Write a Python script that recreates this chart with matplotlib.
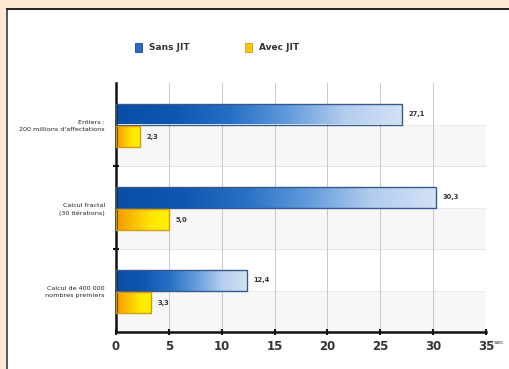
import matplotlib
matplotlib.use("Agg")
import matplotlib.pyplot as plt
import numpy as np
from matplotlib.colors import LinearSegmentedColormap
from matplotlib.patches import Rectangle

# data
categories = ["Entiers :\n200 millions d'affectations",
              "Calcul fractal\n(30 itérations)",
              "Calcul de 400 000\nnombres premiers"]
sans_jit = [27.1, 30.3, 12.4]
avec_jit = [2.3, 5.0, 3.3]
series_names = ["Sans JIT", "Avec JIT"]
x_ticks = [0, 5, 10, 15, 20, 25, 30, 35]

W, H = 509, 369
fig = plt.figure(figsize=(W / 100, H / 100), dpi=100)
fig.patch.set_facecolor("#fde8d3")

# white panel with dark top/left edge
fig.patches.append(Rectangle((7 / W, 0), 1, 1 - 9 / H, transform=fig.transFigure,
                             facecolor="white", edgecolor="none", zorder=-5))
fig.lines.append(plt.Line2D([7 / W, 7 / W], [0, 1 - 9 / H], transform=fig.transFigure,
                            color="#555555", lw=1.4, zorder=-4))
fig.lines.append(plt.Line2D([7 / W, 1], [1 - 9 / H, 1 - 9 / H], transform=fig.transFigure,
                            color="#222222", lw=1.4, zorder=-4))

ax = fig.add_axes([116 / W, 1 - 332 / H, 370 / W, 249 / H])
ax.set_zorder(1)
ax.set_facecolor("white")

blue_cmap = LinearSegmentedColormap.from_list(
    "blue", ["#0a4ea6", "#0e56b0", "#2670c4", "#629bdb", "#b3cdee", "#d3e2f4"])
yellow_cmap = LinearSegmentedColormap.from_list(
    "yellow", ["#f29800", "#fbc000", "#ffe600", "#fff200"])

y = np.arange(len(categories))
n = len(categories)

# background stripes & grid
for yi in y:
    ax.axhspan(yi, yi + 0.5, color="#f7f7f7", lw=0, zorder=0)
    ax.axhline(yi, color="#e8e8e8", lw=0.6, zorder=0.5)
for b in np.arange(0.5, n - 0.5, 1):
    ax.axhline(b, color="#e0e0e0", lw=0.6, zorder=0.5)
for xt in x_ticks[1:]:
    ax.axvline(xt, color="#c8c8c8", lw=0.7, zorder=0.6)

h = 0.25
grad = np.linspace(0, 1, 256).reshape(1, -1)


def gradient_bars(ypos, vals, cmap, edge):
    bars = ax.barh(ypos, vals, height=h, color="none", edgecolor=edge, lw=1.0, zorder=3)
    for bar in bars:
        x0, y0 = bar.get_x(), bar.get_y()
        w, hh = bar.get_width(), bar.get_height()
        im = ax.imshow(grad, extent=(x0, x0 + w, y0 + hh, y0), cmap=cmap,
                       aspect="auto", zorder=2, interpolation="bilinear")
        im.set_clip_path(bar)
    return bars


gradient_bars(y - 0.125, sans_jit, blue_cmap, "#34598a")
gradient_bars(y + 0.145, avec_jit, yellow_cmap, "#d49a10")

for yi, v in zip(y - 0.125, sans_jit):
    ax.text(v + 0.6, yi, f"{v:.1f}".replace(".", ","), va="center", ha="left",
            fontsize=4.8, color="#333333", fontweight="bold")
for yi, v in zip(y + 0.145, avec_jit):
    ax.text(v + 0.6, yi, f"{v:.1f}".replace(".", ","), va="center", ha="left",
            fontsize=4.8, color="#333333", fontweight="bold")

ax.set_xlim(0, 35)
ax.set_ylim(n - 0.5, -0.5)
ax.set_xticks(x_ticks)
ax.set_xticklabels([str(t) for t in x_ticks], fontsize=8.5, color="#333333",
                   fontweight="bold")
ax.set_yticks(y)
ax.set_yticklabels(categories, fontsize=4.6, color="#222222", linespacing=1.5)
ax.set_yticks(np.arange(0.5, n - 0.5, 1), minor=True)
ax.tick_params(axis="y", which="major", length=0, pad=8)
ax.tick_params(axis="y", which="minor", length=4, width=1.5, direction="inout", color="#111111")
ax.tick_params(axis="x", length=4, width=1.5, direction="inout", color="#111111", pad=4)

for s in ("top", "right"):
    ax.spines[s].set_visible(False)
for s in ("left", "bottom"):
    ax.spines[s].set_linewidth(1.8)
    ax.spines[s].set_color("#111111")

fig.text(494 / W, 1 - 342 / H, "sec", fontsize=4.5, color="#333333", va="center")

# legend
legend_items = [(135, series_names[0], "#2a6cc4", "#15488f"),
                (245, series_names[1], "#f7c600", "#d49a10")]
for px, name, fc, ec in legend_items:
    fig.patches.append(Rectangle((px / W, 1 - 52 / H), 7 / W, 9 / H,
                                 transform=fig.transFigure, facecolor=fc,
                                 edgecolor=ec, lw=0.6, zorder=3))
    fig.text((px + 14) / W, 1 - 47.5 / H, name, fontsize=6.5, color="#333333",
             fontweight="bold", va="center")

fig.savefig("out.png", dpi=100, facecolor=fig.get_facecolor())
